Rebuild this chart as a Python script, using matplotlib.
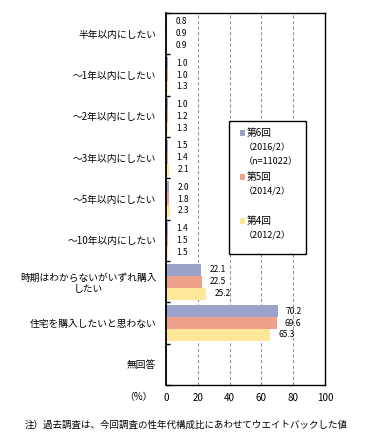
import matplotlib
matplotlib.use("Agg")
import matplotlib.pyplot as plt
from matplotlib.patches import Rectangle
import numpy as np

plt.rcParams['font.family'] = ['Noto Sans CJK JP', 'DejaVu Sans']

categories = ["半年以内にしたい", "～1年以内にしたい", "～2年以内にしたい",
              "～3年以内にしたい", "～5年以内にしたい", "～10年以内にしたい",
              "時期はわからないがいずれ購入\nしたい", "住宅を購入したいと思わない", "無回答"]
series_names = ["第6回", "第5回", "第4回"]
series_sub = [["（2016/2）", "（n=11022）"], ["（2014/2）"], ["（2012/2）"]]
v6 = [0.8, 1.0, 1.0, 1.5, 2.0, 1.4, 22.1, 70.2, None]
v5 = [0.9, 1.0, 1.2, 1.4, 1.8, 1.5, 22.5, 69.6, None]
v4 = [0.9, 1.3, 1.3, 2.1, 2.3, 1.5, 25.2, 65.3, None]
series = [v6, v5, v4]
colors = ["#9BA3CA", "#EFA28B", "#FFE799"]
xticks = [0, 20, 40, 60, 80, 100]

fig = plt.figure(figsize=(3.70, 4.48), dpi=100)
ax = fig.add_axes([166/370, 1-385/448, (325-166)/370, (385-13)/448])

n = len(categories)
y = np.arange(n)
h = 0.29
for k, (vals, col) in enumerate(zip(series, colors)):
    for i, v in enumerate(vals):
        if v is None:
            continue
        yy = i + (k - 1) * h
        ax.barh(yy, v, height=h, color=col, edgecolor='none', zorder=2)
        ax.annotate(f"{v:.1f}", xy=(v, yy), xytext=(6, 0), textcoords='offset points',
                    ha='left', va='center', fontsize=6, zorder=3)

ax.set_xlim(0, 100)
ax.set_ylim(n - 0.5, -0.5)
ax.set_xticks(xticks)
ax.set_xticklabels([str(t) for t in xticks], fontsize=7)
ax.tick_params(axis='x', length=0, pad=6)
ax.set_yticks(y)
ax.set_yticklabels(categories, fontsize=7, multialignment='center')
ax.tick_params(axis='y', which='major', length=0, pad=7)
ax.set_yticks(np.arange(n + 1) - 0.5, minor=True)
ax.tick_params(axis='y', which='minor', direction='in', length=3, width=1)
ax.xaxis.grid(True, linestyle=(0, (3, 2)), color='#999999', lw=0.8, zorder=1)
ax.set_axisbelow(True)
for s in ax.spines.values():
    s.set_color('black')
    s.set_linewidth(1)
ax.spines['left'].set_linewidth(1.3)

# (%) label
fig.text(153/370, 1-397/448, "（%）", ha='right', va='center', fontsize=7)

# legend box
W, H = 370, 448
fig.patches.append(Rectangle((229/W, 1-254/H), (306-229)/W, (254-121)/H,
                             transform=fig.transFigure, facecolor='white',
                             edgecolor='black', lw=1, zorder=5))
tops = [133, 177, 221]
for name, subs, col, ty in zip(series_names, series_sub, colors, tops):
    fig.patches.append(Rectangle((240/W, 1-(ty+3)/H), 5/W, 6/H, transform=fig.transFigure,
                                 facecolor=col, edgecolor='none', zorder=6))
    fig.text(247/W, 1-ty/H, name, ha='left', va='center', fontsize=7, zorder=7)
    for j, s in enumerate(subs):
        fig.text(244/W, 1-(ty+14.5*(j+1))/H, s, ha='left', va='center', fontsize=6.5, zorder=7)

fig.text(25/W, 1-425/H, "注）過去調査は、今回調査の性年代構成比にあわせてウエイトバックした値",
         ha='left', va='center', fontsize=6.8)

fig.savefig("out.png", dpi=100)
